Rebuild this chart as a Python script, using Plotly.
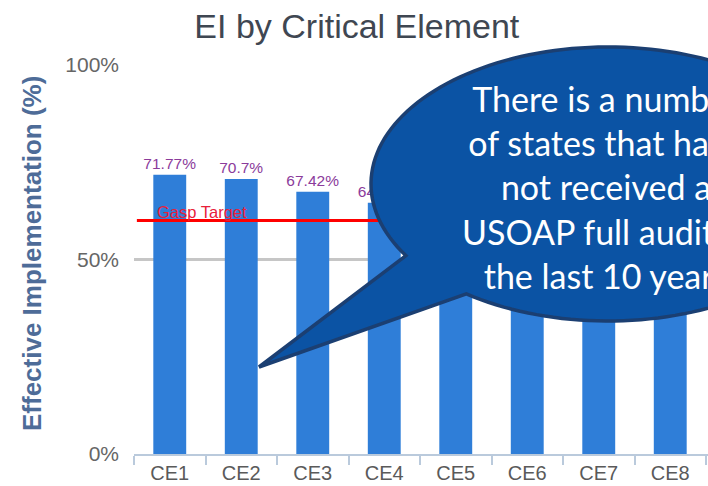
import numpy as np
import plotly.graph_objects as go

categories = ["CE1", "CE2", "CE3", "CE4", "CE5", "CE6", "CE7", "CE8"]
ei_values = [71.77, 70.7, 67.42, 64.57, 58.21, 69.56, 61.02, 51.4]
value_labels = ["71.77%", "70.7%", "67.42%", "64.57%", "58.21%", "69.56%", "61.02%", "51.4%"]
gasp_target = 60
y_ticks = [0, 50, 100]
y_ticklabels = ["0%", "50%", "100%"]
callout_text = "There is a number<br>of states that have<br>not received a<br>USOAP full audit in<br>the last 10 years"

W, H = 708, 486
L, R, T, B = 134, 0, 65, 32
PW, PH = W - L - R, H - T - B


def px2paper(px, py):
    return (px - L) / PW, (H - B - py) / PH


fig = go.Figure()
fig.add_trace(go.Bar(
    x=categories, y=ei_values, width=0.46,
    marker=dict(color="#2F7ED8", line=dict(width=0)),
    text=value_labels, textposition="outside", cliponaxis=False, constraintext="none",
    textfont=dict(color="#8B3B9B", size=15.5, family="Liberation Sans"),
    hoverinfo="skip",
))

# Gasp target line
fig.add_shape(type="line", xref="paper", x0=0.005, x1=1, yref="y", y0=gasp_target, y1=gasp_target,
              line=dict(color="#FF0000", width=3), layer="above")
fig.add_annotation(xref="paper", x=px2paper(155, 0)[0], xanchor="left", yref="y", y=gasp_target,
                   yanchor="bottom", yshift=-2, text="Gasp Target", showarrow=False,
                   font=dict(color="#E8203A", size=16.5, family="Liberation Sans"))

# Callout bubble
cx, cy, a, b = 608, 184, 237, 137
th1, th2 = np.deg2rad(148.5), np.deg2rad(126.7)
tip = (259, 367)
pts = [(cx + a * np.cos(th1), cy + b * np.sin(th1)), tip, (cx + a * np.cos(th2), cy + b * np.sin(th2))]
for t in np.linspace(th2, th1 - 2 * np.pi, 160):
    pts.append((cx + a * np.cos(t), cy + b * np.sin(t)))
ppts = [px2paper(x, y) for x, y in pts]
path = "M " + " L ".join(f"{x:.5f},{y:.5f}" for x, y in ppts) + " Z"
fig.add_shape(type="path", xref="paper", yref="paper", path=path,
              fillcolor="#0B53A4", line=dict(color="#1B3F72", width=3.5), layer="above")
tx, ty = px2paper(606, 187)
fig.add_annotation(xref="paper", yref="paper", x=tx, y=ty, xanchor="center", yanchor="middle",
                   text=callout_text, showarrow=False, align="center",
                   font=dict(color="white", size=34, family="Lato"))

# Y axis title as rotated text
ax, ay = px2paper(32, 254)
fig.add_annotation(xref="paper", yref="paper", x=ax, y=ay, xanchor="center", yanchor="middle",
                   text="<b>Effective Implementation (%)</b>", textangle=-90, showarrow=False,
                   font=dict(color="#4E6C98", size=26, family="Liberation Sans"))

fig.update_layout(
    width=W, height=H,
    margin=dict(l=L, r=R, t=T, b=B),
    paper_bgcolor="white", plot_bgcolor="white",
    showlegend=False,
    title=dict(text="EI by Critical Element", x=0.504, xanchor="center", y=1 - 26 / H, yanchor="middle",
               font=dict(size=34, color="#3F4752", family="Liberation Sans")),
    xaxis=dict(range=[-0.5, -0.5 + PW / 71.5], showline=True, linecolor="#BACADC", linewidth=2,
               ticks="outside", tickson="boundaries", ticklen=9, tickwidth=2, tickcolor="#BACADC",
               tickfont=dict(size=20, color="#5A5A5A", family="Liberation Sans"), showgrid=False),
    yaxis=dict(range=[0, 100], tickvals=y_ticks, ticktext=y_ticklabels, showgrid=True,
               gridcolor="#C6C6C6", gridwidth=2.5, zeroline=False, showline=False, ticks="",
               ticklabelstandoff=14,
               tickfont=dict(size=21, color="#666666", family="Liberation Sans")),
)

fig.write_html("out.html", config={"displayModeBar": False},
               post_script="document.body.style.margin='0px';document.body.style.overflow='hidden';")
